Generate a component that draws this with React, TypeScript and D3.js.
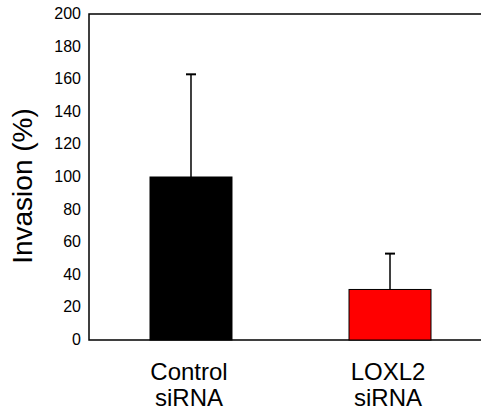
import React, { useEffect, useRef } from 'react';
import * as d3 from 'd3';

const groups = ['Control\nsiRNA', 'LOXL2\nsiRNA'];
const means = [100, 31];
const errors = [63, 22];
const colors = ['#000000', '#ff0000'];
const yTicks = [0, 20, 40, 60, 80, 100, 120, 140, 160, 180, 200];

const App = () => {
  const ref = useRef<SVGSVGElement>(null);

  useEffect(() => {
    const svg = d3.select(ref.current);
    svg.selectAll('*').remove();

    const width = 481, height = 410;
    const left = 89, top = 14, bottom = 340;
    const font = 'Arial, "Liberation Sans", sans-serif';

    svg.attr('width', width).attr('height', height);

    const y = d3.scaleLinear().domain([0, 200]).range([bottom, top]);
    const x = d3.scaleBand<string>()
      .domain(groups)
      .range([left, 492])
      .paddingInner(0.588)
      .paddingOuter(0.3065);

    // frame (open on the right)
    svg.append('path')
      .attr('d', `M${width},${top}H${left}V${bottom}H${width}`)
      .attr('fill', 'none')
      .attr('stroke', '#000')
      .attr('stroke-width', 1.5);

    svg.append('g')
      .selectAll('text')
      .data(yTicks)
      .join('text')
      .attr('x', 81)
      .attr('y', d => y(d) + 5)
      .attr('text-anchor', 'end')
      .attr('font-family', font)
      .attr('font-size', 16)
      .attr('fill', '#000')
      .text(d => d);

    svg.append('text')
      .attr('transform', `translate(32, 186) rotate(-90)`)
      .attr('text-anchor', 'middle')
      .attr('font-family', font)
      .attr('font-size', 28)
      .attr('fill', '#000')
      .text('Invasion (%)');

    groups.forEach((g, i) => {
      const x0 = x(g)!;
      const bw = x.bandwidth();
      const cx = x0 + bw / 2;

      svg.append('rect')
        .attr('x', x0)
        .attr('y', y(means[i]))
        .attr('width', bw)
        .attr('height', y(0) - y(means[i]))
        .attr('fill', colors[i])
        .attr('stroke', '#000')
        .attr('stroke-width', 1);

      svg.append('line')
        .attr('x1', cx).attr('x2', cx)
        .attr('y1', y(means[i]))
        .attr('y2', y(means[i] + errors[i]))
        .attr('stroke', '#000')
        .attr('stroke-width', 1.5);

      svg.append('line')
        .attr('x1', cx - 5).attr('x2', cx + 5)
        .attr('y1', y(means[i] + errors[i]))
        .attr('y2', y(means[i] + errors[i]))
        .attr('stroke', '#000')
        .attr('stroke-width', 2);

      const label = svg.append('text')
        .attr('text-anchor', 'middle')
        .attr('font-family', font)
        .attr('font-size', 24)
        .attr('fill', '#000');
      g.split('\n').forEach((line, j) => {
        label.append('tspan')
          .attr('x', cx - 2)
          .attr('y', 380 + j * 26)
          .text(line);
      });
    });
  }, []);

  return <svg ref={ref} style={{ position: 'absolute', left: 0, top: 0 }}></svg>;
};

export default App;
